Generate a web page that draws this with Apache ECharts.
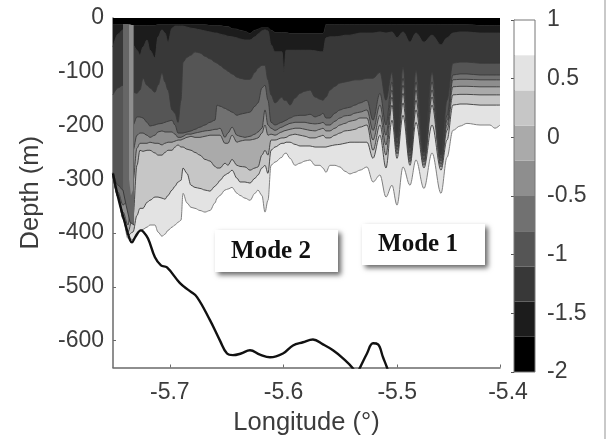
<!DOCTYPE html>
<html>
<head>
<meta charset="utf-8">
<style>
html,body{margin:0;padding:0;background:#fff;}
#c{width:608px;height:439px;filter:blur(0.7px);}
</style>
<script src="https://cdn.jsdelivr.net/npm/echarts@6/dist/echarts.min.js"></script>
</head>
<body>
<div id="c"></div>
<script>
const lon=[-5.75,-5.7456,-5.7412,-5.7368,-5.7324,-5.7289,-5.7263,-5.7236,-5.7201,-5.7175,-5.7131,-5.7104,-5.7069,-5.7043,-5.7016,-5.6981,-5.6955,-5.6928,-5.6902,-5.6884,-5.6849,-5.6814,-5.6779,-5.6735,-5.6691,-5.6647,-5.6603,-5.6585,-5.6559,-5.6515,-5.6489,-5.6453,-5.6409,-5.6383,-5.6339,-5.6295,-5.6251,-5.6225,-5.619,-5.6163,-5.6137,-5.611,-5.6075,-5.6014,-5.5996,-5.5978,-5.5943,-5.5899,-5.5855,-5.5811,-5.5767,-5.5723,-5.5679,-5.5653,-5.5627,-5.5592,-5.5548,-5.5504,-5.546,-5.5416,-5.5372,-5.5328,-5.5266,-5.5213,-5.5152,-5.5099,-5.5046,-5.5002,-5.4949,-5.4888,-5.4835,-5.4765,-5.4694,-5.4615,-5.4562,-5.451,-5.4448,-5.4387,-5.4272,-5.4184,-5.414,-5.4096];
const contour1=[-11,-11,-11,-11,-13,-13,-13,-13,-13,-13,-13,-11,-11,-11,-11,-11,-11,-11,-11,-11,-11,-11,-11,-11,-11,-13,-13,-13,-13,-15,-15,-19,-20,-22,-24,-28,-22,-20,-17,-17,-17,-22,-26,-26,-26,-26,-28,-28,-28,-28,-28,-28,-28,-28,-11,-11,-11,-11,-11,-11,-11,-11,-11,-11,-11,-11,-11,-11,-11,-11,-11,-11,-11,-11,-11,-11,-11,-11,-13,-13,-13,-13];
const contour2=[-54,-30,-22,-22,-50,-60,-69,-54,-41,-60,-74,-35,-22,-28,-45,-19,-15,-15,-15,-15,-17,-19,-20,-22,-24,-26,-28,-28,-30,-32,-34,-35,-37,-39,-41,-41,-35,-30,-24,-22,-24,-50,-63,-63,-101,-60,-60,-60,-60,-60,-60,-61,-63,-63,-37,-35,-35,-34,-32,-32,-30,-28,-28,-28,-26,-28,-26,-37,-26,-45,-28,-45,-32,-50,-37,-28,-26,-26,-28,-28,-28,-28];
const contour3=[-143,-130,-125,-134,-138,-140,-134,-112,-125,-130,-138,-125,-102,-119,-134,-171,-177,-194,-153,-82,-73,-69,-63,-65,-71,-76,-82,-84,-88,-95,-99,-104,-110,-112,-114,-114,-101,-93,-88,-88,-115,-143,-158,-147,-153,-153,-162,-149,-140,-136,-134,-147,-151,-153,-147,-134,-127,-121,-119,-117,-115,-115,-112,-112,-101,-153,-101,-223,-91,-242,-97,-250,-101,-255,-153,-84,-82,-82,-84,-84,-84,-84];
const contour4=[-287,-311,-320,-283,-199,-184,-184,-186,-194,-201,-199,-197,-196,-194,-192,-190,-199,-214,-214,-214,-212,-210,-207,-203,-199,-194,-190,-162,-164,-168,-171,-175,-181,-179,-177,-175,-164,-158,-130,-125,-153,-194,-199,-194,-192,-190,-186,-182,-181,-181,-179,-184,-181,-177,-186,-186,-177,-171,-168,-166,-162,-158,-153,-190,-140,-199,-119,-233,-112,-250,-119,-257,-119,-261,-181,-106,-104,-104,-106,-106,-106,-106];
const contour5=[-290,-324,-348,-339,-246,-218,-214,-214,-218,-222,-218,-212,-210,-212,-212,-212,-216,-222,-222,-220,-216,-216,-214,-212,-210,-209,-207,-207,-205,-222,-214,-203,-218,-220,-222,-220,-216,-212,-205,-171,-199,-205,-209,-203,-201,-199,-196,-194,-194,-194,-196,-197,-196,-194,-199,-199,-192,-186,-182,-181,-177,-175,-171,-209,-162,-218,-134,-240,-125,-257,-134,-264,-134,-266,-190,-115,-114,-114,-115,-115,-115,-115];
const contour6=[-292,-328,-361,-385,-302,-242,-233,-233,-233,-231,-233,-233,-236,-233,-231,-231,-229,-227,-227,-225,-222,-220,-222,-222,-220,-218,-218,-218,-218,-233,-233,-218,-231,-229,-227,-227,-225,-223,-214,-199,-218,-216,-218,-212,-210,-209,-207,-205,-205,-207,-209,-210,-207,-205,-210,-210,-205,-199,-196,-192,-190,-186,-186,-227,-181,-236,-147,-246,-140,-263,-153,-268,-147,-272,-199,-128,-127,-127,-128,-128,-128,-128];
const contour7=[-294,-330,-369,-398,-367,-274,-246,-248,-246,-246,-251,-255,-255,-250,-246,-246,-240,-236,-240,-240,-244,-246,-250,-255,-263,-266,-276,-279,-279,-270,-274,-263,-274,-276,-277,-283,-279,-277,-255,-246,-255,-227,-227,-223,-223,-222,-218,-216,-218,-220,-223,-223,-220,-218,-223,-223,-218,-214,-210,-209,-207,-203,-199,-246,-199,-255,-162,-253,-158,-268,-171,-274,-162,-277,-209,-143,-142,-142,-143,-143,-143,-143];
const contour8=[-294,-333,-372,-404,-398,-367,-354,-354,-343,-339,-333,-333,-335,-337,-330,-320,-313,-305,-302,-279,-289,-311,-315,-317,-320,-322,-313,-309,-302,-292,-289,-283,-298,-305,-305,-307,-298,-292,-279,-274,-289,-246,-240,-233,-233,-231,-231,-235,-238,-238,-238,-240,-240,-240,-240,-238,-236,-235,-233,-231,-231,-231,-231,-261,-218,-279,-190,-261,-181,-274,-194,-279,-199,-283,-227,-162,-160,-160,-162,-162,-162,-162];
const contour9=[-296,-333,-374,-410,-412,-400,-395,-393,-389,-385,-385,-398,-406,-402,-395,-389,-385,-380,-376,-326,-344,-352,-354,-358,-361,-358,-344,-335,-330,-320,-318,-315,-326,-330,-335,-339,-326,-320,-330,-361,-339,-274,-268,-259,-253,-251,-261,-274,-270,-266,-264,-274,-274,-279,-287,-274,-274,-277,-285,-290,-287,-283,-277,-305,-292,-333,-311,-348,-277,-311,-264,-317,-251,-326,-259,-209,-201,-196,-199,-199,-205,-199];
const tongueLon=[-5.7412,-5.7385,-5.735,-5.7315];
const tongueDepth=[-320,-348,-380,-385];
const coreLon=[-5.7359,-5.7342,-5.7324];
const coreDepth=[-300,-330,-320];
const bottomLon=[-5.75,-5.7456,-5.7394,-5.735,-5.7333,-5.7306,-5.7254,-5.7236,-5.7192,-5.7131,-5.7078,-5.7025,-5.6911,-5.6823,-5.6761,-5.6647,-5.6559,-5.6497,-5.6445,-5.6374,-5.6295,-5.6207,-5.6119,-5.6005,-5.5917,-5.5829,-5.5741,-5.5653,-5.5565,-5.5477,-5.5389,-5.5363,-5.5336,-5.5266,-5.5213,-5.5169,-5.5125,-5.509,-5.5081];
const bottomDepth=[-289,-333,-382,-413,-417,-408,-395,-397,-410,-445,-460,-464,-493,-508,-519,-562,-600,-624,-627,-624,-618,-626,-631,-624,-609,-603,-598,-607,-618,-633,-652,-665,-654,-624,-605,-607,-631,-650,-657];
const bandColors=['#000000','#1c1c1c','#383838','#555555','#717171','#8e8e8e','#aaaaaa','#c6c6c6','#e3e3e3','#ffffff'];
const bandLow=[-2,-1.7,-1.4,-1.1,-0.8,-0.5,-0.2,0.1,0.4,0.7];
const bandHigh=[-1.7,-1.4,-1.1,-0.8,-0.5,-0.2,0.1,0.4,0.7,1];
const xTicks=[-5.7,-5.6,-5.5,-5.4096];
const yTicks=[0,-100,-200,-300,-400,-500,-600];

const labelColor='#3c3c3c', axisColor='#6a6a6a', fs=23;
const pairs=(xs,ys)=>xs.map((x,i)=>[x,ys[i]]);
const contours=[contour9,contour8,contour7,contour6,contour5,contour4,contour3,contour2,contour1];
const fills=['#e3e3e3','#c6c6c6','#aaaaaa','#8e8e8e','#717171','#555555','#383838','#1c1c1c','#000000'];
const series=contours.map((d,i)=>({
  type:'line',xAxisIndex:0,yAxisIndex:0,data:pairs(lon,d),symbol:'none',smooth:0.35,smoothMonotone:'x',
  lineStyle:{color:i===0?'#808080':'#3a3a3a',width:i===0?1:0.9},
  areaStyle:{color:fills[i],opacity:1,origin:'end'},z:2+i*0.01,silent:true
}));
series.push({type:'line',data:pairs(tongueLon,tongueDepth),symbol:'none',lineStyle:{color:'#3a3a3a',width:1},
  areaStyle:{color:'#666666',opacity:1,origin:'end'},z:3,silent:true});
series.push({type:'line',data:pairs(coreLon,coreDepth),symbol:'none',lineStyle:{width:0},
  areaStyle:{color:'#8e8e8e',opacity:1,origin:'end'},z:3,silent:true});
// dark surface band painted again over the tongue
series.push({type:'line',data:pairs(lon,contour1),symbol:'none',smooth:0.35,smoothMonotone:'x',lineStyle:{width:0},
  areaStyle:{color:'#000000',opacity:1,origin:'end'},z:3,silent:true});
series.push({type:'line',data:pairs(bottomLon,bottomDepth),symbol:'none',smooth:0.4,clip:true,
  lineStyle:{color:'#111111',width:2.4},z:4,silent:true});
series.push({type:'custom',xAxisIndex:1,yAxisIndex:1,silent:true,
  data:bandLow.map((l,i)=>[l,bandHigh[i]]),
  encode:{y:[0,1]},
  renderItem:(p,api)=>{
    const a=api.coord([0,api.value(0)]),b=api.coord([1,api.value(1)]);
    return {type:'rect',shape:{x:a[0],y:b[1],width:b[0]-a[0],height:a[1]-b[1]},style:{fill:bandColors[p.dataIndex]}};
  },z:2});

const box=(x,y,w,h,t,tx,ty)=>[
 {type:'rect',z:50,shape:{x,y,width:w,height:h},style:{fill:'#fff',shadowColor:'rgba(0,0,0,0.6)',shadowBlur:5,shadowOffsetX:3,shadowOffsetY:3}},
 {type:'text',z:51,x:tx,y:ty,style:{text:t,fill:'#111',font:'bold 25px "Liberation Serif"',align:'center',verticalAlign:'middle'}}
];
const chart=echarts.init(document.getElementById('c'),null,{renderer:'canvas'});
chart.setOption({
 animation:false,backgroundColor:'#fff',
 grid:[
  {left:113,top:18,width:387,height:349.5,show:false,outerBoundsMode:'none'},
  {left:514,top:20,width:21,height:352,show:true,borderColor:'#777',borderWidth:1,backgroundColor:'transparent',z:5,outerBoundsMode:'none'}
 ],
 xAxis:[
  {type:'value',gridIndex:0,min:-5.75,max:-5.4096,name:'Longitude (°)',nameLocation:'middle',nameGap:42,
   nameTextStyle:{fontSize:25.5,color:labelColor,fontFamily:'Liberation Sans'},
   axisLine:{onZero:false,lineStyle:{color:axisColor,width:1.5}},
   axisTick:{inside:true,length:3,customValues:xTicks,lineStyle:{color:axisColor}},
   splitLine:{show:false},
   axisLabel:{customValues:xTicks,margin:14,color:labelColor,fontSize:fs,fontFamily:'Liberation Sans',hideOverlap:false,showMinLabel:true,showMaxLabel:true,
     formatter:v=>v<-5.45?v.toFixed(1):'{far|'+v.toFixed(1)+'}',
     rich:{far:{padding:[0,0,0,16],fontSize:fs,color:labelColor,fontFamily:'Liberation Sans'}}}},
  {type:'value',gridIndex:1,min:0,max:1,show:false}
 ],
 yAxis:[
  {type:'value',gridIndex:0,min:-650,max:0,name:'Depth (m)',nameLocation:'middle',nameGap:69,nameRotate:90,
   nameTextStyle:{fontSize:25.5,color:labelColor,fontFamily:'Liberation Sans'},
   axisLine:{show:true,onZero:false,lineStyle:{color:axisColor,width:1.5}},
   axisTick:{show:true,inside:true,length:3,customValues:yTicks,lineStyle:{color:axisColor}},
   splitLine:{show:false},
   axisLabel:{customValues:yTicks,margin:9,color:labelColor,fontSize:fs,fontFamily:'Liberation Sans'}},
  {type:'value',gridIndex:1,min:-2,max:1,interval:0.5,position:'right',
   axisLine:{show:true,lineStyle:{color:'#777'}},
   axisTick:{show:true,inside:true,length:3,lineStyle:{color:'#555'}},
   splitLine:{show:false},
   axisLabel:{margin:12,color:labelColor,fontSize:fs,fontFamily:'Liberation Sans',showMinLabel:true,showMaxLabel:true,
     formatter:v=>String(v)}}
 ],
 series,
 graphic:{elements:[
  ...box(215,230,123,42,'Mode 2',271,252),
  ...box(362,224,123,41,'Mode 1',418,245),
  {type:'line',z:1,shape:{x1:605,y1:0,x2:605,y2:439},style:{stroke:'#c9c9c9',lineWidth:2}}
 ]}
});
</script>
</body>
</html>
